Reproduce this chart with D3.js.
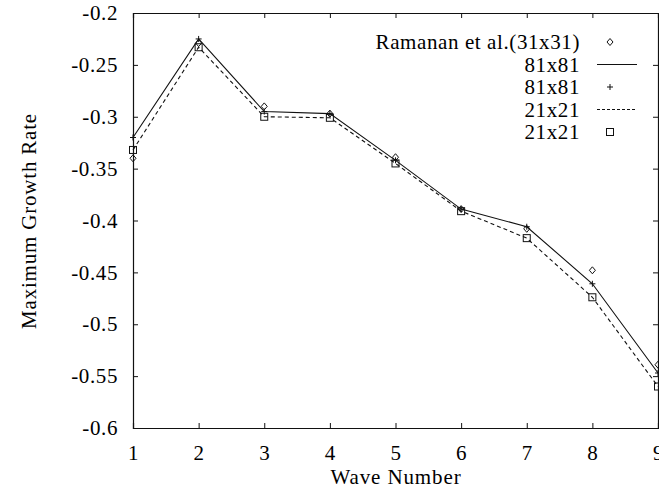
<!DOCTYPE html>
<html>
<head>
<meta charset="utf-8">
<script src="https://cdn.jsdelivr.net/npm/d3@7"></script>
<style>
	body { margin: 0; background: #fff; }
	text { font-family: "Liberation Serif", "DejaVu Serif", serif; fill: #000; }
</style>
</head>
<body>
<div id="chart"></div>
<script>
var waveNumbers = [1, 2, 3, 4, 5, 6, 7, 8, 9];
var ramanan31 = [-0.340, -0.229, -0.290, -0.297, -0.339, -0.389, -0.408, -0.448, -0.539];
var fine81 = [-0.320, -0.225, -0.295, -0.297, -0.342, -0.389, -0.406, -0.461, -0.547];
var coarse21 = [-0.332, -0.233, -0.300, -0.301, -0.345, -0.391, -0.417, -0.474, -0.560];
var yTicks = [-0.2, -0.25, -0.3, -0.35, -0.4, -0.45, -0.5, -0.55, -0.6];
var legendLabels = ['Ramanan et al.(31x31)', '81x81', '81x81', '21x21', '21x21'];

var width = 659, height = 488;
var margin = {top: 13, right: 1, bottom: 60, left: 133};
var fontSize = '21px';

var svg = d3.select('#chart').append('svg')
	.attr('width', width)
	.attr('height', height);

var x = d3.scaleLinear().domain([1, 9]).range([margin.left, width - margin.right]);
var y = d3.scaleLinear().domain([-0.6, -0.2]).range([height - margin.bottom, margin.top]);

var fmt = function(d) { return String(+d.toFixed(2)); };

// axes with inward ticks on all four sides
var g = svg.append('g').attr('class', 'axes');
g.append('g').attr('transform', 'translate(0,' + y(-0.6) + ')')
	.call(d3.axisBottom(x).tickValues(waveNumbers).tickSize(-5).tickPadding(17).tickFormat(d3.format('d')));
g.append('g').attr('transform', 'translate(0,' + y(-0.2) + ')')
	.call(d3.axisTop(x).tickValues(waveNumbers).tickSize(-5).tickFormat(''));
g.append('g').attr('transform', 'translate(' + x(1) + ',0)')
	.call(d3.axisLeft(y).tickValues(yTicks).tickSize(-5).tickPadding(15).tickFormat(fmt));
g.append('g').attr('transform', 'translate(' + x(9) + ',0)')
	.call(d3.axisRight(y).tickValues(yTicks).tickSize(-5).tickFormat(''));

g.selectAll('.domain').attr('stroke', '#111').attr('stroke-width', 1.2);
g.selectAll('.tick line').attr('stroke', '#111');
g.selectAll('.tick text')
	.style('font-size', fontSize)
	.style('letter-spacing', '0.6px')
	.attr('fill', '#000');

// axis titles
svg.append('text')
	.attr('x', 396).attr('y', 484)
	.attr('text-anchor', 'middle')
	.style('font-size', fontSize)
	.style('letter-spacing', '0.9px')
	.text('Wave Number');

svg.append('text')
	.attr('transform', 'translate(36,221) rotate(-90)')
	.attr('text-anchor', 'middle')
	.style('font-size', fontSize)
	.style('letter-spacing', '0.8px')
	.text('Maximum Growth Rate');

var line = d3.line()
	.x(function(d, i) { return x(waveNumbers[i]); })
	.y(function(d) { return y(d); });

svg.append('path').datum(fine81)
	.attr('d', line)
	.attr('fill', 'none').attr('stroke', '#111').attr('stroke-width', 1.1);

svg.append('path').datum(coarse21)
	.attr('d', line)
	.attr('fill', 'none').attr('stroke', '#111').attr('stroke-width', 1.1)
	.attr('stroke-dasharray', '4,3');

function diamond(sel, cx, cy) {
	sel.append('path')
		.attr('d', 'M' + cx + ',' + (cy - 3.5) + 'L' + (cx + 3) + ',' + cy + 'L' + cx + ',' + (cy + 3.5) + 'L' + (cx - 3) + ',' + cy + 'Z')
		.attr('fill', 'none').attr('stroke', '#111').attr('stroke-width', 1);
}
function plus(sel, cx, cy) {
	sel.append('path')
		.attr('d', 'M' + (cx - 3) + ',' + cy + 'H' + (cx + 3) + 'M' + cx + ',' + (cy - 3) + 'V' + (cy + 3))
		.attr('stroke', '#111').attr('stroke-width', 1);
}
function square(sel, cx, cy) {
	sel.append('rect')
		.attr('x', cx - 3.5).attr('y', cy - 3.5).attr('width', 7).attr('height', 7)
		.attr('fill', 'none').attr('stroke', '#111').attr('stroke-width', 1);
}

var marks = svg.append('g').attr('class', 'marks');
ramanan31.forEach(function(v, i) { diamond(marks, x(waveNumbers[i]), y(v)); });
fine81.forEach(function(v, i) { plus(marks, x(waveNumbers[i]), y(v)); });
coarse21.forEach(function(v, i) { square(marks, x(waveNumbers[i]), y(v)); });

// legend
var legend = svg.append('g').attr('class', 'legend');
var lx = 580, sx = 610, ly0 = 42, dy = 22.5;
legendLabels.forEach(function(lab, i) {
	legend.append('text')
		.attr('x', lx).attr('y', ly0 + i * dy)
		.attr('dy', '0.35em')
		.attr('text-anchor', 'end')
		.style('font-size', fontSize)
		.style('letter-spacing', '0.6px')
		.text(lab);
});
diamond(legend, sx, ly0);
legend.append('line').attr('x1', 597).attr('x2', 637).attr('y1', ly0 + dy).attr('y2', ly0 + dy)
	.attr('stroke', '#111').attr('stroke-width', 1);
plus(legend, sx, ly0 + 2 * dy);
legend.append('line').attr('x1', 597).attr('x2', 637).attr('y1', ly0 + 3 * dy).attr('y2', ly0 + 3 * dy)
	.attr('stroke', '#111').attr('stroke-width', 1).attr('stroke-dasharray', '3,2');
square(legend, sx, ly0 + 4 * dy);
</script>
</body>
</html>
